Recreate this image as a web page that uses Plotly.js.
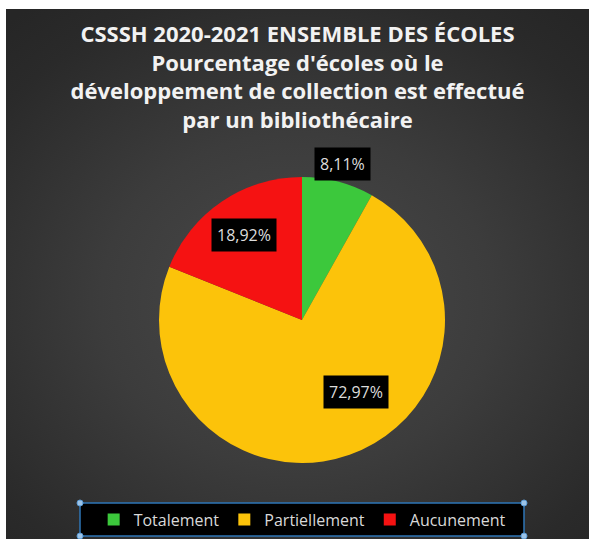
<!DOCTYPE html>
<html>
<head>
<meta charset="utf-8">
<script src="https://cdn.plot.ly/plotly-3.0.1.min.js"></script>
<style>
  html, body { margin: 0; padding: 0; background: #ffffff; width: 589px; height: 539px; overflow: hidden; }
  #wrap { position: absolute; left: 6px; top: 9px; width: 583px; height: 530px;
    background: radial-gradient(ellipse 75% 70% at 50% 55%, #4a4a4a 0%, #3c3c3c 45%, #2a2a2a 85%, #262626 100%); }
  #chart { width: 583px; height: 530px; }
</style>
</head>
<body>
<div id="wrap"><div id="chart"></div></div>
<script>
// ---- data ----
const categories = ["Totalement", "Partiellement", "Aucunement"];
const values = [8.11, 72.97, 18.92];
const valueLabels = ["8,11%", "72,97%", "18,92%"];
const titleLines = [
  "CSSSH 2020-2021 ENSEMBLE DES ÉCOLES",
  "Pourcentage d'écoles où le",
  "développement de collection est effectué",
  "par un bibliothécaire"
];

// ---- style ----
const colors = ["#3cc83c", "#fcc30a", "#f51212"];
const labelRadius = [1.13, 0.63, 0.72];     // fraction of pie radius
const labelAngleShift = [0, -17.5, 0];      // degrees, label placement tweak
const W = 583, H = 530;
const cx = 296, cyUp = 219, R = 143;        // pie centre (px from left / bottom), radius

const dom = { x: [(cx - R) / W, (cx + R) / W], y: [(cyUp - R) / H, (cyUp + R) / H] };

// label positions derived from the data's slice angles
const total = values.reduce((a, b) => a + b, 0);
let cum = 0;
const annotations = values.map((v, i) => {
  const mid = (cum + v / 2) / total; cum += v;
  const th = (mid * 360 + labelAngleShift[i]) * Math.PI / 180;
  const r = R * labelRadius[i];
  return {
    xref: "paper", yref: "paper",
    x: (cx + r * Math.sin(th)) / W, y: (cyUp + r * Math.cos(th)) / H,
    xanchor: "center", yanchor: "middle",
    text: valueLabels[i], showarrow: false,
    bgcolor: "#000000", borderpad: 5,
    font: { family: "Open Sans, sans-serif", size: 16, color: "#dcdcdc" }
  };
});

// legend frame (Excel-style selected box with handles)
const lb = { x0: 74 / W, x1: 518 / W, y0: 3 / H, y1: 36 / H };
const handleR = 3;
const handles = [[lb.x0, lb.y0], [lb.x0, lb.y1], [lb.x1, lb.y0], [lb.x1, lb.y1]].map(p => ({
  type: "circle", xref: "paper", yref: "paper", layer: "above",
  x0: p[0] - handleR / W, x1: p[0] + handleR / W, y0: p[1] - handleR / H, y1: p[1] + handleR / H,
  fillcolor: "#9dc3e6", line: { color: "#5b9bd5", width: 1 }
}));
const shapes = [{
  type: "rect", xref: "paper", yref: "paper", layer: "above",
  x0: lb.x0, x1: lb.x1, y0: lb.y0, y1: lb.y1,
  fillcolor: "#000000", line: { color: "#2e75b6", width: 1.5 }
}].concat(handles);

const trace = {
  type: "pie",
  labels: categories,
  values: values,
  sort: false,
  direction: "clockwise",
  rotation: 0,
  marker: { colors: colors, line: { width: 0 } },
  textinfo: "none",
  hoverinfo: "label+percent",
  domain: dom
};

const layout = {
  width: W, height: H,
  margin: { l: 0, r: 0, t: 0, b: 0 },
  paper_bgcolor: "rgba(0,0,0,0)",
  plot_bgcolor: "rgba(0,0,0,0)",
  title: {
    text: "<b>" + titleLines.join("<br>") + "</b>",
    font: { family: "Open Sans, sans-serif", size: 22, color: "#f2f2f2" },
    x: 0.5, xanchor: "center", xref: "paper",
    y: 1 - 33 / H, yanchor: "middle", yref: "paper"
  },
  showlegend: true,
  legend: {
    orientation: "h",
    x: 0.508, xanchor: "center",
    y: 19.5 / H, yanchor: "middle",
    bgcolor: "rgba(0,0,0,0)",
    borderwidth: 0,
    font: { family: "Open Sans, sans-serif", size: 16, color: "#d9d9d9" },
    itemclick: false
  },
  shapes: shapes,
  annotations: annotations
};

Plotly.newPlot("chart", [trace], layout, { displayModeBar: false, staticPlot: true });
</script>
</body>
</html>
